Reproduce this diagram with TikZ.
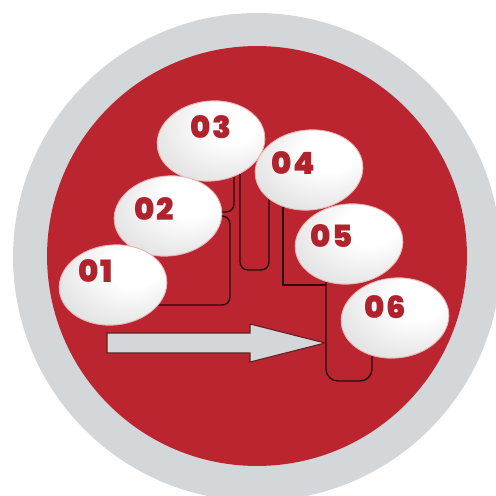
\documentclass[tikz,border=0pt]{standalone}
\usepackage{fontspec}
\newfontfamily\numfont{Poppins Black}[LetterSpace=6]
\usepackage{tikz}
\usetikzlibrary{shapes.geometric}

\definecolor{discred}{RGB}{186,37,48}
\definecolor{numred}{RGB}{176,34,44}
\definecolor{ringgray}{RGB}{212,215,218}
\definecolor{wirecol}{RGB}{40,12,12}
\definecolor{rimpink}{RGB}{232,178,178}
\definecolor{arrowrim}{RGB}{95,30,32}

\pgfdeclarelayer{wires}
\pgfsetlayers{wires,main}
\pgfdeclareradialshading{lens}{\pgfpoint{12bp}{14bp}}{color(0bp)=(white); color(12bp)=(white); color(36bp)=(black!13); color(60bp)=(black!38)}

\begin{document}
\begin{tikzpicture}[x=0.02cm, y=-0.02cm,
    disc/.style={ellipse, minimum width=2.16cm, minimum height=1.6cm, inner sep=0pt,
        rotate=6, shading=lens, draw=rimpink, line width=0.5pt},
    num/.style={font=\numfont\fontsize{17.5}{17.5}\selectfont, text=numred, inner sep=0pt},
    wire/.style={draw=wirecol, line width=0.8pt, rounded corners=0.16cm}]
    \useasboundingbox (0,0) rectangle (496,496);

    % ring
    \begin{pgfonlayer}{wires}
        \begin{scope}
            \clip (0,0) rectangle (496,496);
            \fill[ringgray] (257,257) circle (4.88cm);
        \end{scope}
        \fill[discred] (257,256) circle (4.2cm);
    \end{pgfonlayer}

    % discs
    \node[disc] (e03) at (211,141) {};
    \node[disc] (e02) at (168,216) {};
    \node[disc] (e01) at (113,285) {};
    \node[disc] (e04) at (309,170) {};
    \node[disc] (e05) at (349,244) {};
    \node[disc] (e06) at (395,318) {};

    \node[num] (t01) at (96,271) {01};
    \node[num] (t02) at (154,209) {02};
    \node[num] (t03) at (211,127) {03};
    \node[num] (t04) at (293,163) {04};
    \node[num] (t05) at (332,236) {05};
    \node[num] (t06) at (385,307) {06};

    % links
    \begin{pgfonlayer}{wires}
        \draw[wire] (e01.center |- 0,305) -| (230,216) -- (e02.center |- 0,216);
        \draw[wire] (e02.center |- 0,212) -| (e03.center -| 234,0);
        \draw[wire] (e03.center -| 240,0) |- (269,270) -- (e04.center -| 269,0);
        \draw[wire, sharp corners] (e04.center -| 283,0) |- (326,285);
        \draw[wire, rounded corners=0.24cm] (e05.center -| 326,0) |- (372,381) -- (e06.center -| 372,0);
    \end{pgfonlayer}

    % arrow
    \coordinate (tip) at (325,343);
    \draw[fill=ringgray, draw=arrowrim, line width=0.6pt]
        (107,333) -- (250,333) -- (250,324) -- (tip) -- (250,362) -- (250,353) -- (107,353) -- cycle;
\end{tikzpicture}
\end{document}
